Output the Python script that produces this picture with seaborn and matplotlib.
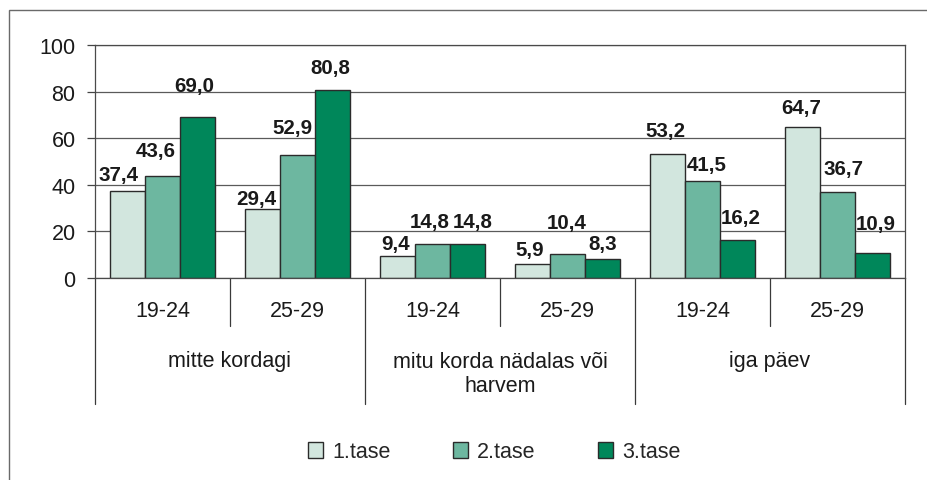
import matplotlib

matplotlib.use("Agg")
import matplotlib.pyplot as plt
import matplotlib.transforms as mtransforms
import numpy as np
import pandas as pd
import seaborn as sns
from matplotlib.patches import Rectangle

# data
grupid = ["mitte kordagi", "mitu korda nädalas või\nharvem", "iga päev"]
vanused = ["19-24", "25-29"]
tasemed = ["1.tase", "2.tase", "3.tase"]
tase1 = [37.4, 29.4, 9.4, 5.9, 53.2, 64.7]
tase2 = [43.6, 52.9, 14.8, 10.4, 41.5, 36.7]
tase3 = [69.0, 80.8, 14.8, 8.3, 16.2, 10.9]
y_ticks = [0, 20, 40, 60, 80, 100]

# label nudges in pixels (dx, dy from bar top to label centre), per tase
nihked = [
    [(-8.5, 18), (-6.5, 12.5), (-1.5, 15), (-2.5, 17), (-1.5, 26), (-1.5, 22)],
    [(-7, 28), (-5.5, 29), (-2.5, 24.5), (-0.5, 33), (4.5, 19), (6.5, 25.5)],
    [(-3.5, 34), (-2.5, 24.5), (5.5, 24.5), (0.5, 17.5), (3.5, 25), (3.5, 31.5)],
]

varvid = ["#D2E6DE", "#6DB7A0", "#00875A"]

kategooriad = [f"{g}|{v}" for g in grupid for v in vanused]
rows = []
for tase, vals in zip(tasemed, [tase1, tase2, tase3]):
    for kat, val in zip(kategooriad, vals):
        rows.append({"kat": kat, "tase": tase, "vaartus": val})
df = pd.DataFrame(rows)

sns.set_theme(style="white")
plt.rcParams["font.family"] = ["Liberation Sans", "DejaVu Sans"]

fig = plt.figure(figsize=(9.28, 4.81), dpi=100)
ax = fig.add_axes([95 / 928, 1 - 279 / 481, 810 / 928, 233 / 481])

sns.barplot(
    data=df,
    x="kat",
    y="vaartus",
    hue="tase",
    order=kategooriad,
    hue_order=tasemed,
    palette=varvid,
    width=0.78,
    edgecolor="#2b2b2b",
    linewidth=1.0,
    saturation=1,
    legend=True,
    ax=ax,
)

ax.set_xlim(-0.5, len(kategooriad) - 0.5)
ax.set_ylim(0, 100)
ax.set_yticks(y_ticks)
ax.set_yticklabels([str(t) for t in y_ticks], fontsize=15.5, color="#1a1a1a")
ax.tick_params(axis="y", left=True, length=6, width=0.9, color="#444444", pad=8)
ax.set_xticks([])
ax.set_xlabel("")
ax.set_ylabel("")
ax.yaxis.grid(True, color="#5a5a5a", linewidth=0.9)
ax.set_axisbelow(True)
for s in ["left", "right", "top", "bottom"]:
    ax.spines[s].set_visible(True)
    ax.spines[s].set_color("#4a4a4a")
    ax.spines[s].set_linewidth(0.9)

# value labels
for cont, nihe in zip(ax.containers, nihked):
    for bar, (dx, dy) in zip(cont, nihe):
        h = bar.get_height()
        ax.annotate(
            f"{h:.1f}".replace(".", ","),
            xy=(bar.get_x() + bar.get_width() / 2, h),
            xytext=(dx, dy - 7.5),
            textcoords="offset pixels",
            ha="center",
            va="baseline",
            fontsize=14.8,
            fontweight="bold",
            color="#1a1a1a",
        )

# two-level category axis
trans = mtransforms.blended_transform_factory(ax.transData, ax.transAxes)
px = 1 / 233
for i in range(1, len(kategooriad)):
    alumine = -126 * px if i % 2 == 0 else -48 * px
    ax.plot([i - 0.5, i - 0.5], [0, alumine], transform=trans, color="#3a3a3a",
            linewidth=0.9, clip_on=False)
for x in [-0.5, len(kategooriad) - 0.5]:
    ax.plot([x, x], [0, -126 * px], transform=trans, color="#3a3a3a",
            linewidth=0.9, clip_on=False)
for i, kat in enumerate(kategooriad):
    ax.text(i, -33 * px, kat.split("|")[1], transform=trans, ha="center",
            va="center", fontsize=15.5, color="#1a1a1a")
for j, g in enumerate(grupid):
    read = g.count("\n")
    ax.text(2 * j + 0.5, (-88 - 25 * read) * px, g, transform=trans, ha="center",
            va="baseline", fontsize=15.5, color="#1a1a1a", linespacing=1.2)

# legend
handles, labels = ax.get_legend_handles_labels()
ax.legend_.remove()
fig.legend(
    handles,
    labels,
    loc="center",
    bbox_to_anchor=(494 / 928, 1 - 453 / 481),
    ncol=3,
    frameon=False,
    fontsize=15.5,
    handlelength=0.72,
    handleheight=0.72,
    handletextpad=0.4,
    columnspacing=2.9,
)

# outer chart border
fig.patches.append(
    Rectangle((9 / 928, -0.1), 1.2, 0.1 + (481 - 11) / 481, transform=fig.transFigure,
              fill=False, edgecolor="#6a6a6a", linewidth=1.0)
)

fig.savefig("out.png", dpi=100)
